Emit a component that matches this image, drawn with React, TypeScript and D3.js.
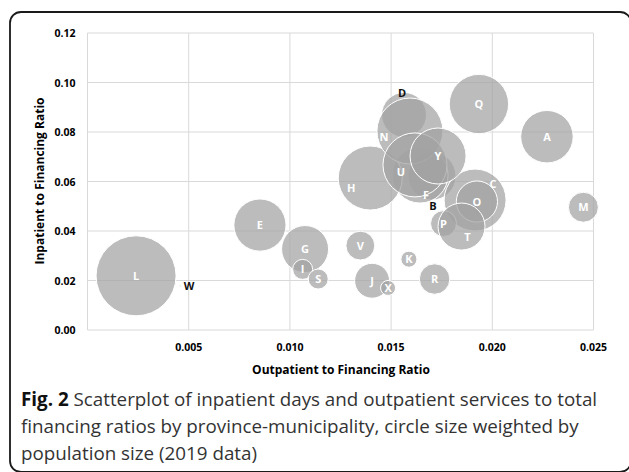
import { useEffect, useRef } from 'react';
import * as d3 from 'd3';

// province-municipality codes, ratios and population weight
const codes = ['A', 'B', 'C', 'D', 'E', 'F', 'G', 'H', 'I', 'J', 'K', 'L', 'M', 'N', 'O', 'P', 'Q', 'R', 'S', 'T', 'U', 'V', 'W', 'X', 'Y'];
const outpatient = [0.0227, 0.01702, 0.01915, 0.01564, 0.00852, 0.01643, 0.01075, 0.01397, 0.01063, 0.01406, 0.01588, 0.0024, 0.0245, 0.01593, 0.01924, 0.01759, 0.01934, 0.01715, 0.0114, 0.01848, 0.01618, 0.01348, 0.00457, 0.01485, 0.01732];
const inpatient = [0.0781, 0.0622, 0.0525, 0.0869, 0.0424, 0.0626, 0.0327, 0.0614, 0.0245, 0.0199, 0.0286, 0.0219, 0.0496, 0.0804, 0.0519, 0.043, 0.0913, 0.0206, 0.0206, 0.0418, 0.0667, 0.0341, 0.0178, 0.017, 0.0703];
const population = [8.6, 7.2, 12.0, 6.3, 8.5, 9.8, 6.9, 12.8, 1.25, 3.8, 0.8, 20, 2.8, 13.6, 5.3, 2.1, 11.0, 2.9, 1.25, 6.9, 12.8, 2.6, 0.01, 0.7, 9.8];

const xTicks = [0.005, 0.01, 0.015, 0.02, 0.025];
const yTicks = [0, 0.02, 0.04, 0.06, 0.08, 0.1, 0.12];

// labels moved by hand in the original
const labelNudge: Record<string, [number, number]> = {
  C: [18, -16], N: [-26, 6], U: [-14, 7], F: [6, 20], H: [-19, 10], T: [6, 10],
  D: [-2, -22], B: [1, 30], W: [9, 0],
};
const darkLabels = ['D', 'B', 'W'];

const W = 629;
const H = 472;
const margin = { left: 87.5, right: 35.5, top: 33, bottom: 142 };
const font = '"Open Sans", "DejaVu Sans", sans-serif';

const App = () => {
  const ref = useRef<SVGSVGElement>(null);

  useEffect(() => {
    if (!ref.current) return;
    const svg = d3.select(ref.current);
    svg.selectAll('*').remove();

    const x = d3.scaleLinear().domain([0, 0.025]).range([margin.left, W - margin.right]);
    const y = d3.scaleLinear().domain([0, 0.12]).range([H - margin.bottom, margin.top]);
    const r = d3.scaleSqrt().domain([0, 20]).range([0, 40]);

    // frame (cropped on the right and bottom in the original)
    svg.append('rect')
      .attr('x', 10).attr('y', 12)
      .attr('width', 621).attr('height', 460)
      .attr('rx', 11)
      .attr('fill', 'white')
      .attr('stroke', '#1a1a1a')
      .attr('stroke-width', 1.8);

    // grid
    const grid = svg.append('g').attr('stroke', '#d9d9d9').attr('stroke-width', 1);
    grid.selectAll('line.h')
      .data(yTicks)
      .enter()
      .append('line')
      .attr('x1', x(0)).attr('x2', x(0.025))
      .attr('y1', d => y(d)).attr('y2', d => y(d));
    grid.selectAll('line.v')
      .data([0, ...xTicks])
      .enter()
      .append('line')
      .attr('y1', y(0)).attr('y2', y(0.12))
      .attr('x1', d => x(d)).attr('x2', d => x(d));

    // tick labels
    svg.selectAll('text.ytick')
      .data(yTicks)
      .enter()
      .append('text')
      .attr('x', x(0) - 12)
      .attr('y', d => y(d) + 4)
      .attr('text-anchor', 'end')
      .style('font-family', font)
      .style('font-size', '10.5px')
      .style('font-weight', 'bold')
      .text(d => d3.format('.2f')(d));
    svg.selectAll('text.xtick')
      .data(xTicks)
      .enter()
      .append('text')
      .attr('x', d => x(d))
      .attr('y', y(0) + 21)
      .attr('text-anchor', 'middle')
      .style('font-family', font)
      .style('font-size', '10.5px')
      .style('font-weight', 'bold')
      .text(d => d3.format('.3f')(d));

    // axis titles
    svg.append('text')
      .attr('x', 341).attr('y', 374)
      .attr('text-anchor', 'middle')
      .style('font-family', font)
      .style('font-size', '12px')
      .style('font-weight', 'bold')
      .text('Outpatient to Financing Ratio');
    svg.append('text')
      .attr('transform', 'translate(44, 181) rotate(-90)')
      .attr('text-anchor', 'middle')
      .style('font-family', font)
      .style('font-size', '12px')
      .style('font-weight', 'bold')
      .text('Inpatient to Financing Ratio');

    // bubbles
    const idx = d3.range(codes.length);
    svg.append('g')
      .selectAll('circle')
      .data(idx)
      .enter()
      .append('circle')
      .attr('cx', i => x(outpatient[i]))
      .attr('cy', i => y(inpatient[i]))
      .attr('r', i => r(population[i]))
      .attr('fill', '#a2a2a2')
      .attr('fill-opacity', 0.72)
      .attr('stroke', 'white')
      .attr('stroke-width', 1);

    svg.append('g')
      .selectAll('text')
      .data(idx)
      .enter()
      .append('text')
      .attr('x', i => x(outpatient[i]) + (labelNudge[codes[i]]?.[0] ?? 0))
      .attr('y', i => y(inpatient[i]) + (labelNudge[codes[i]]?.[1] ?? 0))
      .attr('dy', '0.36em')
      .attr('text-anchor', 'middle')
      .style('font-family', font)
      .style('font-size', '11px')
      .style('font-weight', 'bold')
      .attr('fill', i => (darkLabels.includes(codes[i]) ? '#111' : 'white'))
      .text(i => codes[i]);

    // caption
    const cap = svg.append('g')
      .style('font-family', font)
      .style('font-size', '18.8px')
      .attr('fill', '#333');
    const line1 = cap.append('text').attr('x', 21).attr('y', 406);
    line1.append('tspan').style('font-weight', 'bold').attr('fill', '#111').text('Fig. 2');
    line1.append('tspan').text(' Scatterplot of inpatient days and outpatient services to total');
    cap.append('text').attr('x', 21).attr('y', 433)
      .text('financing ratios by province-municipality, circle size weighted by');
    cap.append('text').attr('x', 21).attr('y', 460)
      .text('population size (2019 data)');
  }, []);

  return (
    <svg
      ref={ref}
      width={W}
      height={H}
      style={{ position: 'absolute', left: 0, top: 0, background: 'white' }}
    />
  );
};

export default App;
